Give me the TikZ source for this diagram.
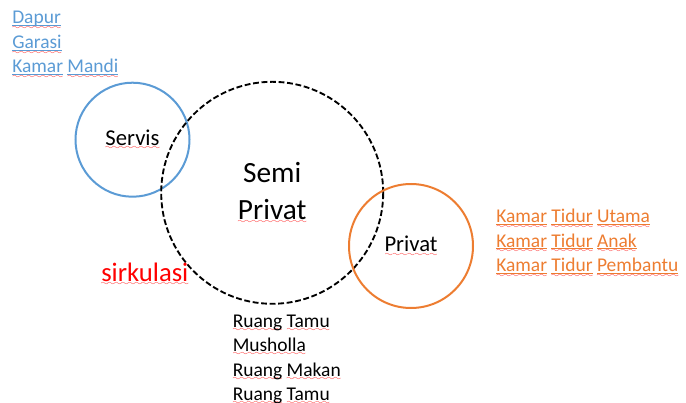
\documentclass[tikz,border=0pt]{standalone}
\usepackage{fontspec}
\setmainfont{Carlito}
\usetikzlibrary{positioning}

\definecolor{servisblue}{HTML}{5B9BD5}
\definecolor{privatorange}{HTML}{ED7D31}

% wavy spelling mark under a word, and link underline + mark
\font\wavefont=lasy6
\newcommand\spl[1]{\leavevmode\setbox0\hbox{#1}%
  \rlap{\lower3.4pt\hbox to\wd0{\color{red!90}\xleaders\hbox{\wavefont\char58}\hfil}}\box0\relax}
\newcommand\lnk[1]{\leavevmode\setbox0\hbox{#1}%
  \rlap{\vrule width\wd0 height-1.0pt depth1.8pt}%
  \rlap{\lower4.2pt\hbox to\wd0{\color{red!90}\xleaders\hbox{\wavefont\char58}\hfil}}\box0\relax}

\begin{document}
\begin{tikzpicture}[x=0.75pt,y=-0.75pt,
    zone/.style={circle,inner sep=0pt,line width=1.5pt},
    listitem/.style={anchor=base west,inner sep=0pt,font=\fontsize{14.6}{18}\selectfont}]
  \useasboundingbox (0,0) rectangle (686,403);

  % ZONES
  \node[zone,draw=servisblue,minimum size=85.5pt,font=\fontsize{17}{20}\selectfont]
    (servis) at (132.5,139.7) {\spl{Servis}};
  \node[zone,draw=black,line width=1.4pt,dash pattern=on 4.4pt off 2pt,minimum size=166.5pt,
    align=center,font=\fontsize{22}{27.75}\selectfont]
    (semi) at (272.2,192.8) {Semi\\\spl{Privat}};
  \node[zone,draw=privatorange,minimum size=93pt,font=\fontsize{17}{20}\selectfont]
    (privat) at (411,246) {\spl{Privat}};

  \node[anchor=base west,inner sep=0pt,text=red,font=\fontsize{20}{24}\selectfont]
    (sirkulasi) at (101,281) {\spl{sirkulasi}};

  % SERVIS
  \node[listitem,text=servisblue] (dapur) at (12,24) {\lnk{Dapur}};
  \node[listitem,text=servisblue] (garasi) at (12,48.5) {\lnk{Garasi}};
  \node[listitem,text=servisblue] (kmandi) at (12,73) {\lnk{Kamar} \lnk{Mandi}};

  % PRIVAT
  \node[listitem,text=privatorange] (ktutama) at (496,222.5) {\lnk{Kamar} \lnk{Tidur} \lnk{Utama}};
  \node[listitem,text=privatorange] (ktanak) at (496,247) {\lnk{Kamar} \lnk{Tidur} \lnk{Anak}};
  \node[listitem,text=privatorange] (ktpembantu) at (496,271.5) {\lnk{Kamar} \lnk{Tidur} \lnk{Pembantu}};

  % SEMI PRIVAT
  \node[listitem] (rtamu) at (232.5,327) {\spl{Ruang} \spl{Tamu}};
  \node[listitem] (musholla) at (232.5,351) {\spl{Musholla}};
  \node[listitem] (rmakan) at (232.5,376) {\spl{Ruang} \spl{Makan}};
  \node[listitem] (rtamub) at (232.5,400) {\spl{Ruang} \spl{Tamu}};
\end{tikzpicture}
\end{document}
